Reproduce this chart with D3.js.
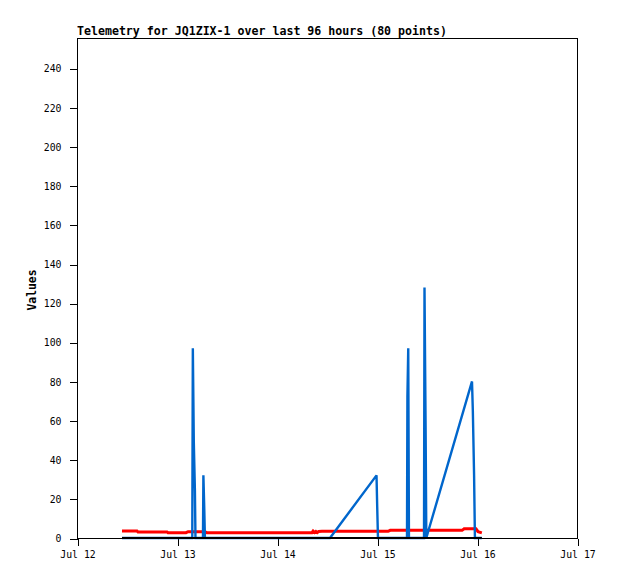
<!DOCTYPE html>
<html>
<head>
<meta charset="utf-8">
<script src="https://cdn.jsdelivr.net/npm/d3@7"></script>
<style>
  html, body { margin: 0; padding: 0; background: #fff; }
  svg { display: block; }
</style>
</head>
<body>
<svg id="chart" width="618" height="579"></svg>
<script>
// ---- data (times are UTC, "MM-DD HH:MM", year 2023) ----
const titleText = "Telemetry for JQ1ZIX-1 over last 96 hours (80 points)";
const yLabel = "Values";
const xTickDates = ["07-12 00:00", "07-13 00:00", "07-14 00:00", "07-15 00:00", "07-16 00:00", "07-17 00:00"];
const yTicks = [0, 20, 40, 60, 80, 100, 120, 140, 160, 180, 200, 220, 240];

// red series
const redTimes = ["07-12 10:48", "07-12 14:24", "07-12 14:38", "07-12 21:36", "07-12 21:50",
  "07-13 02:10", "07-13 02:40", "07-13 06:40", "07-13 07:10", "07-14 08:24", "07-14 08:40",
  "07-14 09:00", "07-14 09:20", "07-14 09:40", "07-14 10:00", "07-14 10:48", "07-15 02:40",
  "07-15 03:10", "07-15 20:25", "07-15 20:55", "07-15 23:45", "07-16 00:15", "07-16 01:10"];
const redValues = [3.6, 3.6, 3.1, 3.1, 2.7,
  2.7, 3.2, 3.2, 2.7, 2.7, 3.5,
  2.8, 3.4, 2.8, 3.3, 3.4, 3.4,
  3.9, 3.9, 4.7, 4.7, 3.2, 2.6];

// blue series
const blueTimes = ["07-12 10:48", "07-13 03:40", "07-13 03:48", "07-13 04:02", "07-13 04:18", "07-13 04:26",
  "07-13 06:14", "07-13 06:20", "07-13 06:32", "07-13 06:42",
  "07-14 12:43", "07-14 23:53", "07-15 00:03", "07-15 00:14",
  "07-15 07:12", "07-15 07:18", "07-15 07:30", "07-15 07:40",
  "07-15 11:17", "07-15 11:24", "07-15 11:40", "07-15 11:50",
  "07-15 22:48", "07-15 23:00", "07-15 23:18", "07-15 23:30", "07-16 01:10"];
const blueValues = [0, 0, 97, 49, 24, 0,
  0, 32, 16, 0,
  0, 32, 16, 0,
  0, 72, 97, 0,
  0, 128, 56, 0,
  80, 65, 32, 0, 0];

// black series
const blackTimes = ["07-12 10:48", "07-16 01:10"];
const blackValues = [0, 0];

// ---- drawing ----
const parse = d3.utcParse("%Y-%m-%d %H:%M");
const toDate = s => parse("2023-" + s);

const W = 618, H = 579;
const m = { left: 77, right: 41, top: 38, bottom: 41 };
const svg = d3.select("#chart");
svg.append("rect").attr("width", W).attr("height", H).attr("fill", "#fff");

const x = d3.scaleUtc()
  .domain([toDate(xTickDates[0]), toDate(xTickDates[xTickDates.length - 1])])
  .range([m.left, W - m.right]);
const y = d3.scaleLinear().domain([0, 255.5]).range([H - m.bottom, m.top]);

const font = "'DejaVu Sans Mono', 'Liberation Mono', monospace";

// frame
svg.append("rect")
  .attr("x", m.left + 0.5).attr("y", m.top + 0.5)
  .attr("width", W - m.right - m.left).attr("height", H - m.bottom - m.top)
  .attr("fill", "none").attr("stroke", "#000").attr("stroke-width", 1)
  .attr("shape-rendering", "crispEdges");

// axes
const xAxis = d3.axisBottom(x)
  .tickValues(xTickDates.map(toDate))
  .tickFormat(d3.utcFormat("%b %d"))
  .tickSizeOuter(0).tickSize(7).tickPadding(6);
const gx = svg.append("g").attr("transform", `translate(0.5,${H - m.bottom + 0.5})`).call(xAxis);
gx.select(".domain").remove();
gx.selectAll("line").attr("stroke", "#000").attr("shape-rendering", "crispEdges");
gx.selectAll("text").attr("font-family", font).attr("font-size", "9.8px").attr("fill", "#000");

const yAxis = d3.axisLeft(y).tickValues(yTicks).tickSize(8).tickSizeOuter(0).tickPadding(8);
const gy = svg.append("g").attr("transform", `translate(${m.left + 0.5},0.5)`).call(yAxis);
gy.select(".domain").remove();
gy.selectAll("line").attr("stroke", "#000").attr("shape-rendering", "crispEdges");
gy.selectAll("text").attr("font-family", font).attr("font-size", "9.8px").attr("fill", "#000");

// title
svg.append("text")
  .attr("x", m.left).attr("y", 35)
  .attr("font-family", font).attr("font-weight", "bold").attr("font-size", "11.6px")
  .attr("fill", "#000")
  .text(titleText);

// y label
svg.append("text")
  .attr("transform", `translate(36,${(m.top + H - m.bottom) / 2 + 2}) rotate(-90)`)
  .attr("text-anchor", "middle")
  .attr("font-family", font).attr("font-weight", "bold").attr("font-size", "11.4px")
  .attr("fill", "#000")
  .text(yLabel);

const line = d3.line().x(d => x(d[0])).y(d => y(d[1]));
const series = [
  { times: redTimes, values: redValues, color: "#ff0000", width: 3 },
  { times: blueTimes, values: blueValues, color: "#0066cc", width: 2.4 },
  { times: blackTimes, values: blackValues, color: "#000000", width: 2.2 }
];
series.forEach(s => {
  const pts = s.times.map((t, i) => [toDate(t), s.values[i]]);
  svg.append("path")
    .datum(pts)
    .attr("d", line)
    .attr("fill", "none")
    .attr("stroke", s.color)
    .attr("stroke-width", s.width)
    .attr("stroke-linejoin", "miter")
    .attr("stroke-miterlimit", 2);
});
</script>
</body>
</html>
